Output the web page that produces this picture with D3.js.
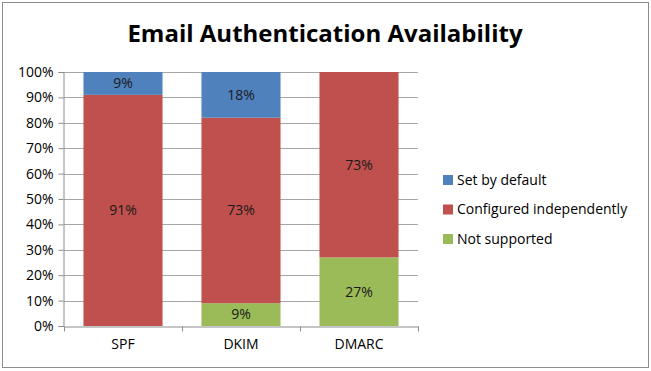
<!DOCTYPE html>
<html>
<head>
<meta charset="utf-8">
<script src="https://cdn.jsdelivr.net/npm/d3@7"></script>
<style>
  body { margin: 0; background: #fff; }
  text { font-family: "Open Sans", "Noto Sans", sans-serif; }
</style>
</head>
<body>
<script>
const categories = ['SPF', 'DKIM', 'DMARC'];
const seriesNames = ['Not supported', 'Configured independently', 'Set by default'];
const notSupported = [0, 9, 27];
const configured   = [91, 73, 73];
const setByDefault = [9, 18, 0];
const yTicks = [0, 10, 20, 30, 40, 50, 60, 70, 80, 90, 100];
const legendOrder = ['Set by default', 'Configured independently', 'Not supported'];

const width  = 651;
const height = 371;
const margin = {top: 72, right: 233, bottom: 45, left: 64};

const color = d3.scaleOrdinal()
  .domain(seriesNames)
  .range(['#9BBB59', '#C0504D', '#4F81BD']);

const rows = categories.map((c, i) => ({
  cat: c,
  'Not supported': notSupported[i],
  'Configured independently': configured[i],
  'Set by default': setByDefault[i]
}));

const svg = d3.select('body').append('svg')
  .attr('width', width)
  .attr('height', height);

// outer border
svg.append('rect')
  .attr('x', 2.5).attr('y', 2.5)
  .attr('width', width - 5).attr('height', height - 6)
  .attr('fill', '#fff').attr('stroke', '#8c8c8c');

svg.append('text')
  .attr('x', 325).attr('y', 42)
  .attr('text-anchor', 'middle')
  .style('font-size', '24px').style('font-weight', 'bold')
  .text('Email Authentication Availability');

const x = d3.scaleBand()
  .domain(categories)
  .range([margin.left, width - margin.right])
  .paddingInner(0.33).paddingOuter(0.165);

const y = d3.scaleLinear()
  .domain([0, 100])
  .range([height - margin.bottom, margin.top]);

// gridlines
svg.append('g').selectAll('line')
  .data(yTicks.slice(1))
  .enter().append('line')
  .attr('x1', margin.left).attr('x2', width - margin.right)
  .attr('y1', d => Math.round(y(d)) + 0.5).attr('y2', d => Math.round(y(d)) + 0.5)
  .attr('stroke', '#a6a6a6');

const stack = d3.stack().keys(seriesNames);
const layers = stack(rows);

const g = svg.selectAll('.layer')
  .data(layers)
  .enter().append('g')
  .attr('class', 'layer')
  .attr('fill', d => color(d.key));

g.selectAll('rect')
  .data(d => d)
  .enter().append('rect')
  .attr('x', d => x(d.data.cat))
  .attr('width', x.bandwidth())
  .attr('y', d => y(d[1]))
  .attr('height', d => y(d[0]) - y(d[1]));

g.selectAll('text')
  .data(d => d.filter(p => p[1] - p[0] > 0))
  .enter().append('text')
  .attr('x', d => x(d.data.cat) + x.bandwidth() / 2)
  .attr('y', d => (y(d[0]) + y(d[1])) / 2)
  .attr('dy', '0.35em')
  .attr('text-anchor', 'middle')
  .attr('fill', '#1a1a1a')
  .style('font-size', '14px')
  .text(d => (d[1] - d[0]) + '%');

// y axis
const yAxis = d3.axisLeft(y)
  .tickValues(yTicks)
  .tickSize(5)
  .tickFormat(d => d + '%');

const ya = svg.append('g')
  .attr('transform', 'translate(' + (margin.left - 0.5) + ',0)')
  .call(yAxis);
ya.select('.domain').attr('stroke', '#8c8c8c');
ya.selectAll('.tick line').attr('stroke', '#8c8c8c');
ya.selectAll('.tick text')
  .attr('x', -10)
  .attr('fill', '#000')
  .style('font-size', '14px')
  .style('font-family', '"Open Sans", sans-serif');

// x axis
const xa = svg.append('g')
  .attr('transform', 'translate(0,' + (height - margin.bottom + 0.5) + ')')
  .call(d3.axisBottom(x).tickSize(0).tickPadding(13));
xa.select('.domain').attr('stroke', '#8c8c8c');
xa.selectAll('.tick text')
  .attr('fill', '#000')
  .style('font-size', '14px')
  .style('font-family', '"Open Sans", sans-serif');

// category separator ticks
const step = x.step();
const sepX = [0, 1, 2, 3].map(i => margin.left + i * step);
xa.selectAll('.sep')
  .data(sepX)
  .enter().append('line')
  .attr('class', 'sep')
  .attr('x1', d => Math.round(d) + 0.5).attr('x2', d => Math.round(d) + 0.5)
  .attr('y1', 0).attr('y2', 5)
  .attr('stroke', '#8c8c8c');

// legend
const legend = svg.append('g')
  .attr('transform', 'translate(443,180)');

const li = legend.selectAll('g')
  .data(legendOrder)
  .enter().append('g')
  .attr('transform', (d, i) => 'translate(0,' + (i * 29.5) + ')');

li.append('rect')
  .attr('x', 0).attr('y', -5)
  .attr('width', 10).attr('height', 10)
  .attr('fill', d => color(d));

li.append('text')
  .attr('x', 14).attr('y', 0)
  .attr('dy', '0.35em')
  .style('font-size', '14px')
  .attr('fill', '#000')
  .text(d => d);
</script>
</body>
</html>
